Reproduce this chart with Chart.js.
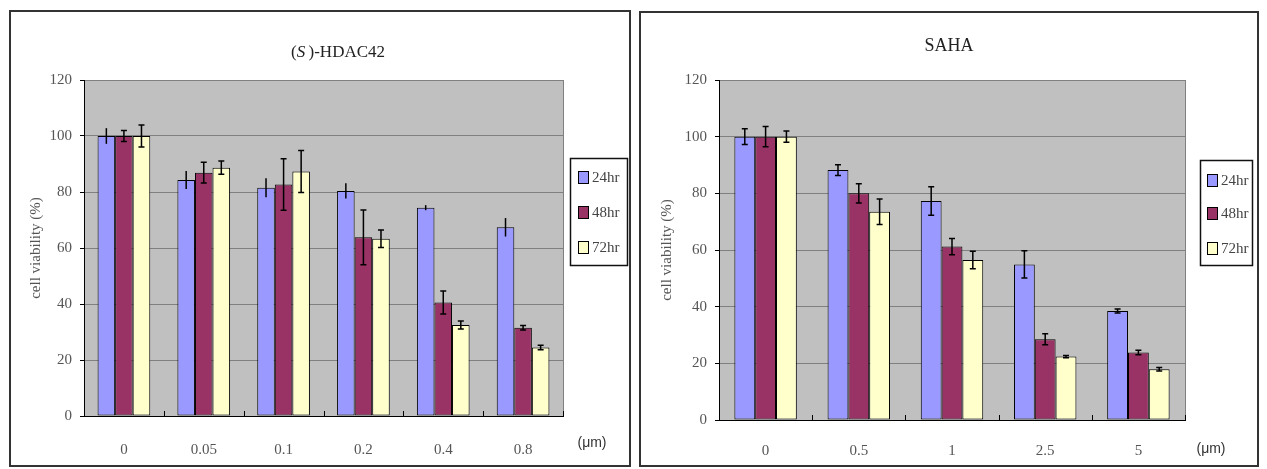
<!DOCTYPE html>
<html>
<head>
<meta charset="utf-8">
<script src="https://cdn.jsdelivr.net/npm/chart.js@4"></script>
<style>
  body { margin: 0; background: #fff; width: 1267px; height: 469px; position: relative; overflow: hidden; }
  .box { position: absolute; border: 2px solid #333; box-sizing: border-box; background: #fff; }
  #boxA { left: 9px; top: 10px; width: 622px; height: 457px; }
  #boxB { left: 639px; top: 11px; width: 620px; height: 456px; }
  canvas { display: block; }
</style>
</head>
<body>
<div class="box" id="boxA"><canvas id="hdacChart" width="618" height="453"></canvas></div>
<div class="box" id="boxB"><canvas id="sahaChart" width="616" height="452"></canvas></div>
<script>
// Data
const timeLabels = ['24hr', '48hr', '72hr'];
const yTicks = [0, 20, 40, 60, 80, 100, 120];

const hdacDoses = ['0', '0.05', '0.1', '0.2', '0.4', '0.8'];
const hdac24 = [100, 84.3, 81.5, 80.4, 74.4, 67.4];
const hdac48 = [100, 86.9, 82.7, 63.8, 40.5, 31.5];
const hdac72 = [100, 88.7, 87.3, 63.3, 32.5, 24.5];
const hdac24Err = [2.8, 3.2, 3.4, 2.7, 0.9, 3.3];
const hdac48Err = [2.0, 3.7, 9.2, 9.8, 4.1, 0.8];
const hdac72Err = [3.9, 2.4, 7.5, 3.1, 1.4, 0.8];

const sahaDoses = ['0', '0.5', '1', '2.5', '5'];
const saha24 = [100, 88.2, 77.3, 54.9, 38.5];
const saha48 = [100, 80.0, 61.2, 28.5, 23.8];
const saha72 = [100, 73.5, 56.5, 22.4, 17.9];
const saha24Err = [2.8, 1.9, 5.0, 4.8, 0.7];
const saha48Err = [3.6, 3.4, 2.9, 1.9, 0.8];
const saha72Err = [2.0, 4.5, 3.1, 0.4, 0.6];

const barColors = ['#9999FF', '#993366', '#FFFFCC'];
const serif = '"Liberation Serif", "Times New Roman", serif';
const tickColor = '#555';

// background, inner x ticks, error bars, title, legend, unit label
function decor(opt) {
  return {
    id: 'decor',
    beforeDraw(chart) {
      const { ctx, chartArea: a } = chart;
      ctx.save();
      ctx.fillStyle = '#C0C0C0';
      ctx.fillRect(a.left, a.top, a.right - a.left, a.bottom - a.top);
      ctx.restore();
    },
    afterDatasetsDraw(chart) {
      const { ctx, chartArea: a } = chart;
      const y = chart.scales.y;
      ctx.save();
      // plot frame on the right
      ctx.strokeStyle = '#808080';
      ctx.lineWidth = 1;
      ctx.beginPath();
      ctx.moveTo(Math.round(a.right) + 0.5, a.top);
      ctx.lineTo(Math.round(a.right) + 0.5, a.bottom);
      ctx.stroke();
      // small ticks between categories
      const n = chart.data.labels.length;
      const step = (a.right - a.left) / n;
      ctx.strokeStyle = '#000';
      for (let i = 1; i <= n; i++) {
        const x = Math.round(a.left + i * step) + 0.5;
        ctx.beginPath();
        ctx.moveTo(x, a.bottom);
        ctx.lineTo(x, a.bottom - 5);
        ctx.stroke();
      }
      // error bars
      ctx.lineWidth = 1.5;
      chart.data.datasets.forEach((ds, di) => {
        const meta = chart.getDatasetMeta(di);
        meta.data.forEach((bar, j) => {
          const v = ds.data[j], e = ds.errors[j];
          const y1 = y.getPixelForValue(v + e), y2 = y.getPixelForValue(v - e);
          ctx.beginPath();
          ctx.moveTo(bar.x, y1);
          ctx.lineTo(bar.x, y2);
          if (ds.capHalf > 0) {
            ctx.moveTo(bar.x - ds.capHalf, y1);
            ctx.lineTo(bar.x + ds.capHalf, y1);
            ctx.moveTo(bar.x - ds.capHalf, y2);
            ctx.lineTo(bar.x + ds.capHalf, y2);
          }
          ctx.stroke();
        });
      });
      ctx.restore();
    },
    afterDraw(chart) {
      const ctx = chart.ctx;
      ctx.save();
      // title (with italic parts)
      ctx.fillStyle = '#222';
      ctx.textBaseline = 'middle';
      let total = 0;
      opt.title.parts.forEach(p => {
        ctx.font = (p.italic ? 'italic ' : '') + opt.title.size + 'px ' + serif;
        p.w = ctx.measureText(p.text).width;
        total += p.w;
      });
      let tx = opt.title.x - total / 2;
      opt.title.parts.forEach(p => {
        ctx.font = (p.italic ? 'italic ' : '') + opt.title.size + 'px ' + serif;
        ctx.fillText(p.text, tx, opt.title.y);
        tx += p.w;
      });
      // legend
      const L = opt.legend;
      ctx.strokeStyle = '#111';
      ctx.lineWidth = 1.5;
      ctx.strokeRect(L.x + 0.5, L.y + 0.5, L.w, L.h);
      ctx.save();
      ctx.beginPath();
      ctx.rect(L.x, L.y, L.w, L.h);
      ctx.clip();
      chart.data.datasets.forEach((ds, i) => {
        const cy = L.rows[i];
        ctx.fillStyle = ds.backgroundColor;
        ctx.fillRect(L.sx + 0.5, cy - 6 + 0.5, 10, 12);
        ctx.strokeStyle = '#000';
        ctx.lineWidth = 1;
        ctx.strokeRect(L.sx + 0.5, cy - 6 + 0.5, 10, 12);
        ctx.fillStyle = '#444';
        ctx.font = '15px ' + serif;
        ctx.textAlign = 'left';
        ctx.fillText(ds.label, L.tx, cy + 1);
      });
      ctx.restore();
      // unit label
      ctx.fillStyle = '#333';
      ctx.font = '14px "Liberation Sans", Arial, sans-serif';
      ctx.textAlign = 'center';
      ctx.fillText('(\u03bcm)', opt.unit.x, opt.unit.y);
      ctx.restore();
    }
  };
}

function buildChart(id, opt) {
  const datasets = opt.series.map((vals, i) => ({
    label: timeLabels[i],
    data: vals,
    errors: opt.errors[i],
    capHalf: opt.caps[i],
    backgroundColor: barColors[i],
    borderColor: '#000',
    borderWidth: 1,
    borderSkipped: false,
    categoryPercentage: opt.catPct,
    barPercentage: 1
  }));
  return new Chart(document.getElementById(id), {
    type: 'bar',
    data: { labels: opt.doses, datasets },
    options: {
      responsive: false,
      animation: false,
      layout: { padding: { top: opt.area.top, right: opt.area.right, left: 0, bottom: 0 } },
      plugins: { legend: { display: false }, tooltip: { enabled: false } },
      scales: {
        x: {
          grid: { display: false, drawTicks: false },
          border: { color: '#000', width: 1 },
          ticks: { color: tickColor, font: { family: serif, size: 15 }, padding: opt.xPad },
          afterFit: s => { s.height = opt.area.xh; }
        },
        y: {
          min: 0,
          max: 120,
          afterBuildTicks: s => { s.ticks = yTicks.map(v => ({ value: v })); },
          ticks: { color: tickColor, font: { family: serif, size: 15 }, padding: 8 },
          grid: {
            color: c => (c.tick && c.tick.value === 0) ? 'rgba(0,0,0,0)' : '#808080',
            tickLength: 4,
            tickColor: '#000'
          },
          border: { color: '#000', width: 1 },
          title: {
            display: true,
            text: 'cell viability (%)',
            color: '#555',
            font: { family: serif, size: 15 },
            padding: { top: opt.yTitlePad, bottom: 0 }
          },
          afterFit: s => { s.width = opt.area.yw; }
        }
      }
    },
    plugins: [decor(opt)]
  });
}

buildChart('hdacChart', {
  doses: hdacDoses,
  series: [hdac24, hdac48, hdac72],
  errors: [hdac24Err, hdac48Err, hdac72Err],
  caps: [0, 3, 3],
  catPct: 0.66,
  area: { top: 68, right: 66, xh: 49, yw: 73 },
  xPad: 25,
  yTitlePad: 16,
  title: { x: 327, y: 41, size: 17, parts: [{ text: '(' }, { text: 'S', italic: true }, { text: '\u2009)-HDAC42' }] },
  legend: { x: 559, y: 146, w: 57, h: 107, sx: 567, tx: 581, rows: [165, 200, 235] },
  unit: { x: 581, y: 431 }
});

buildChart('sahaChart', {
  doses: sahaDoses,
  series: [saha24, saha48, saha72],
  errors: [saha24Err, saha48Err, saha72Err],
  caps: [3, 3, 3],
  catPct: 0.67,
  area: { top: 67, right: 72, xh: 45, yw: 78 },
  xPad: 22,
  yTitlePad: 17,
  title: { x: 308, y: 33, size: 18, parts: [{ text: 'SAHA' }] },
  legend: { x: 559, y: 147, w: 52, h: 105, sx: 566, tx: 580, rows: [167, 200, 235] },
  unit: { x: 570, y: 436 }
});
</script>
</body>
</html>
